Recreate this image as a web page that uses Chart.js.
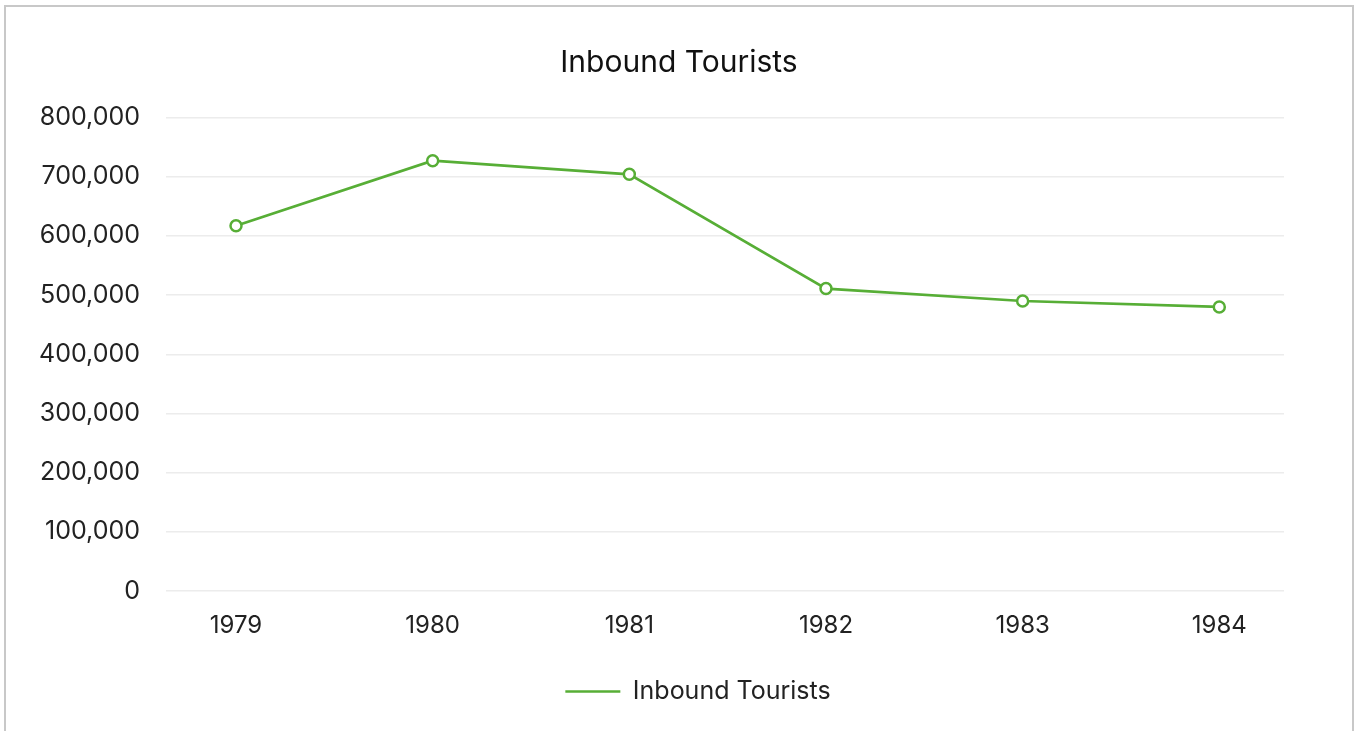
<!DOCTYPE html>
<html>
<head>
<meta charset="utf-8">
<script src="https://cdn.jsdelivr.net/npm/chart.js@4.4.1/dist/chart.umd.min.js"></script>
<style>
  html, body { margin: 0; padding: 0; background: #fff; overflow: hidden; }
  #frame { position: absolute; left: 4px; top: 5px; width: 1346px; height: 800px; border: 2px solid #c8c8c8; box-sizing: content-box; }
  #c { position: absolute; left: 0; top: 0; }
</style>
</head>
<body>
<div id="frame"></div>
<canvas id="c" width="1358" height="731"></canvas>
<script>
const categories = ['1979', '1980', '1981', '1982', '1983', '1984'];
const seriesName = 'Inbound Tourists';
const values = [617000, 727000, 704000, 511000, 490000, 480000];
const yTicks = [0, 100000, 200000, 300000, 400000, 500000, 600000, 700000, 800000];

const GREEN = '#57ae36';
const FONT = 'Inter, "Open Sans", sans-serif';

const points = categories.map((c, i) => ({ x: Number(c), y: values[i] }));

const legendShift = {
  id: 'legendShift',
  afterLayout(chart) {
    const lg = chart.legend;
    if (lg) { lg.left += 19; lg.right += 19; }
  }
};

new Chart(document.getElementById('c'), {
  type: 'line',
  data: {
    datasets: [{
      label: seriesName,
      data: points,
      borderColor: GREEN,
      backgroundColor: GREEN,
      borderWidth: 2.7,
      pointRadius: 5.5,
      pointHoverRadius: 5.5,
      pointBorderWidth: 2.5,
      pointBackgroundColor: '#ffffff',
      pointBorderColor: GREEN,
      tension: 0,
      fill: false
    }]
  },
  plugins: [legendShift],
  options: {
    responsive: false,
    animation: false,
    layout: { padding: { top: 35, right: 0, bottom: 17, left: 0 } },
    plugins: {
      title: {
        display: true,
        text: seriesName,
        color: '#111111',
        font: { family: FONT, size: 30, weight: 'normal' },
        padding: { top: 10, bottom: 36.5 }
      },
      legend: {
        display: true,
        position: 'bottom',
        labels: {
          usePointStyle: true,
          pointStyle: 'line',
          pointStyleWidth: 55,
          color: '#222222',
          font: { family: FONT, size: 25 },
          padding: 10
        }
      },
      tooltip: { enabled: false }
    },
    scales: {
      x: {
        type: 'linear',
        min: 1978.644,
        max: 1984.329,
        afterFit: (s) => { s.height = 78; },
        grid: { display: false, drawTicks: false },
        border: { display: false },
        afterBuildTicks: (s) => { s.ticks = categories.map(c => ({ value: Number(c) })); },
        ticks: {
          color: '#222222',
          font: { family: FONT, size: 24 },
          padding: 20,
          callback: (v) => String(v)
        }
      },
      y: {
        min: 0,
        max: 800000,
        afterFit: (s) => { s.width = 166; },
        afterBuildTicks: (s) => { s.ticks = yTicks.map(v => ({ value: v })); },
        grid: { color: '#ececec', lineWidth: 1.5, drawTicks: false },
        border: { display: false },
        ticks: {
          color: '#222222',
          font: { family: FONT, size: 25 },
          padding: 26,
          callback: (v) => v.toLocaleString('en-US')
        }
      },
      yRight: {
        position: 'right',
        display: true,
        afterFit: (s) => { s.width = 74; },
        grid: { display: false, drawTicks: false },
        border: { display: false },
        ticks: { display: false }
      }
    }
  }
});
</script>
</body>
</html>
